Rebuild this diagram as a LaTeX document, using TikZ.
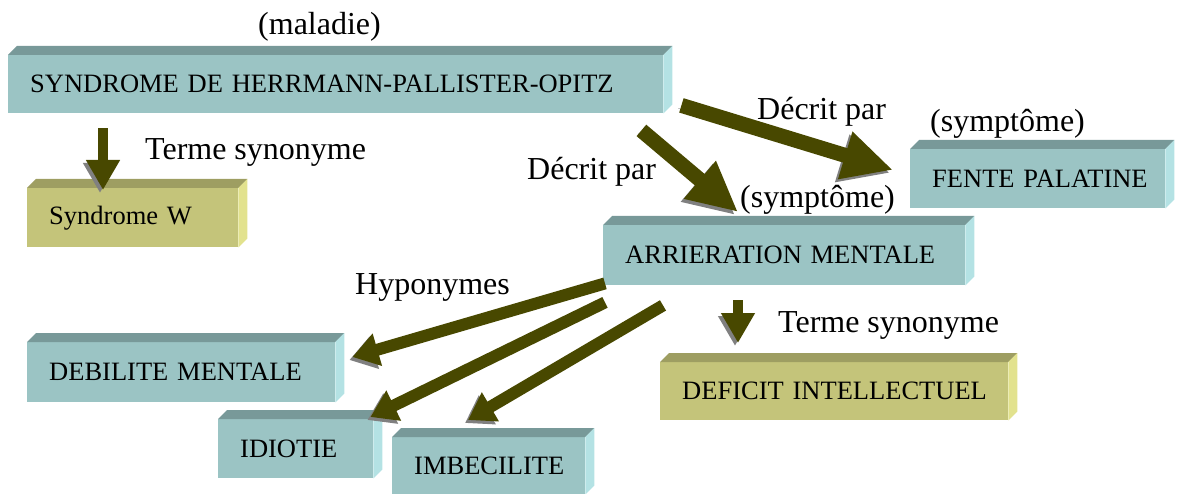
\documentclass[tikz,border=0pt]{standalone}
\usepackage{fontspec}
\setmainfont{Liberation Serif}
\usetikzlibrary{calc,arrows.meta}

\definecolor{tealfront}{RGB}{155,196,196}
\definecolor{tealtop}{RGB}{120,153,153}
\definecolor{tealside}{RGB}{180,226,228}
\definecolor{olivefront}{RGB}{196,196,122}
\definecolor{olivetop}{RGB}{158,158,98}
\definecolor{oliveside}{RGB}{226,226,142}
\definecolor{arrowolive}{RGB}{72,72,0}
\definecolor{arrowedge}{RGB}{128,128,128}

% top and right faces of a 3d box (node, top colour, side colour)
\newcommand{\boxsides}[3]{%
  \fill[#2] (#1.north west) -- ++(9,-9) -- ($(#1.north east)+(9,-9)$) -- (#1.north east) -- cycle;
  \fill[#3] (#1.north east) -- ++(9,-9) -- ($(#1.south east)+(9,-9)$) -- (#1.south east) -- cycle;}

\tikzset{
  boxnode/.style={rectangle, anchor=north west, inner xsep=22pt, inner ysep=0pt,
    align=left, font={\fontsize{26.5}{30}\selectfont},
    execute at begin node={\hbox\bgroup}, execute at end node={\egroup}},
  tealbox/.style={boxnode, fill=tealfront},
  olivebox/.style={boxnode, fill=olivefront},
  lbl/.style={anchor=west, inner sep=0pt, font={\fontsize{32}{36}\selectfont}},
  blockarrow/.style={draw=arrowolive, preaction={draw=arrowedge, transform canvas={shift={(-3,-3)}}}},
  synarrow/.style={blockarrow, line width=10pt, -{Triangle[width=32pt,length=30pt]}},
  decarrow/.style={blockarrow, line width=15pt, -{Triangle[width=46pt,length=50pt]}},
  hyparrow/.style={blockarrow, line width=12pt, -{Triangle[width=32pt,length=26pt]}}
}

\begin{document}
\begin{tikzpicture}[x=1pt,y=1pt,yscale=-1,xscale=1]
  \useasboundingbox (0,0) rectangle (1185,494);

  % boxes
  \node[tealbox, text width=611pt, minimum height=58pt] (hpo) at (8,55) {SYNDROME DE HERRMANN-PALLISTER-OPITZ};
  \boxsides{hpo}{tealtop}{tealside}
  \node[olivebox, text width=167pt, minimum height=59pt] (synw) at (27,188) {Syndrome W};
  \boxsides{synw}{olivetop}{oliveside}
  \node[tealbox, text width=211pt, minimum height=59pt] (fente) at (910,149) {FENTE PALATINE};
  \boxsides{fente}{tealtop}{tealside}
  \node[tealbox, text width=318pt, minimum height=60pt] (arr) at (603,225) {ARRIERATION MENTALE};
  \boxsides{arr}{tealtop}{tealside}
  \node[tealbox, text width=264pt, minimum height=60pt] (deb) at (27,342) {DEBILITE MENTALE};
  \boxsides{deb}{tealtop}{tealside}
  \node[tealbox, text width=111pt, minimum height=59pt] (idi) at (218,419) {IDIOTIE};
  \boxsides{idi}{tealtop}{tealside}
  \node[tealbox, text width=149pt, minimum height=57pt] (imb) at (392,437) {IMBECILITE};
  \boxsides{imb}{tealtop}{tealside}
  \node[olivebox, text width=304pt, minimum height=58pt] (def) at (660,362) {DEFICIT INTELLECTUEL};
  \boxsides{def}{olivetop}{oliveside}

  % start points of the arrows
  \coordinate (s1) at ($(hpo.south west)+(95,15)$);
  \coordinate (s2) at ($(hpo.south east)+(-22,17)$);
  \coordinate (s3) at ($(hpo.south east)+(18,-8)$);
  \coordinate (s4) at ($(arr.south west)+(2,-2)$);
  \coordinate (s5) at ($(arr.south west)+(2,17)$);
  \coordinate (s6) at ($(arr.south west)+(60,20)$);
  \coordinate (s7) at ($(arr.south west)+(135,15)$);

  % arrows
  \draw[synarrow] (s1) -- ($(synw.north west)+(76,2)$);
  \draw[decarrow] (s2) -- ($(arr.north west)+(135,-13)$);
  \draw[decarrow] (s3) -- ($(fente.north west)+(-17,21)$);
  \draw[hyparrow] (s4) -- ($(deb.north east)+(17,15)$);
  \draw[hyparrow] (s5) -- ($(idi.north east)+(-3,-2)$);
  \draw[hyparrow] (s6) -- ($(imb.north west)+(76,-17)$);
  \draw[synarrow] (s7) -- ($(def.north west)+(78,-19)$);

  % labels
  \node[lbl] (lmal) at (258,27) {(maladie)};
  \node[lbl] (lsyn1) at (145,152) {Terme synonyme};
  \node[lbl] (ldec1) at (757,112) {Décrit par};
  \node[lbl] (ldec2) at (527,172) {Décrit par};
  \node[lbl] (lsym1) at (930,124) {(symptôme)};
  \node[lbl] (lsym2) at (740,200) {(symptôme)};
  \node[lbl] (lhyp) at (355,287) {Hyponymes};
  \node[lbl] (lsyn2) at (778,325) {Terme synonyme};
\end{tikzpicture}
\end{document}
